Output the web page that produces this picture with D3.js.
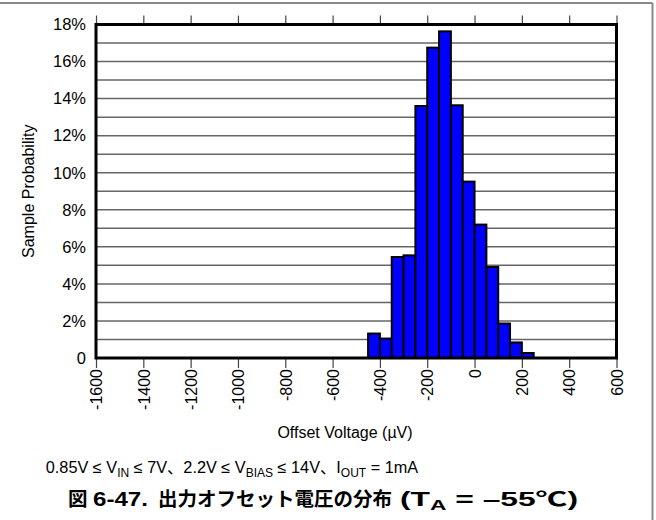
<!DOCTYPE html>
<html><head><meta charset="utf-8">
<script src="https://cdn.jsdelivr.net/npm/d3@7"></script>
<style>body{margin:0;background:#fff}svg{display:block}</style>
</head><body>
<script>
const binStarts = [-450,-400,-350,-300,-250,-200,-150,-100,-50,0,50,100,150,200];
const binWidth = 50;
const probabilities = [1.32,1.05,5.45,5.54,13.6,16.75,17.63,13.64,9.52,7.2,4.91,1.86,0.84,0.27];
const xTicks = [-1600,-1400,-1200,-1000,-800,-600,-400,-200,0,200,400,600];
const yTicks = [0,2,4,6,8,10,12,14,16,18];

const W=656,H=520;
const L=96,R=616.5,T=24.5,B=358;
const svg=d3.select("body").append("svg").attr("width",W).attr("height",H);
const x=d3.scaleLinear().domain([-1600,600]).range([L,R]);
const y=d3.scaleLinear().domain([0,18]).range([B,T]);
const font="Liberation Sans, Arial, sans-serif";
const cjk="Liberation Sans, Noto Sans CJK JP, sans-serif";

// outer frame
svg.append("line").attr("x1",0).attr("x2",652.5).attr("y1",3).attr("y2",3).attr("stroke","#888").attr("stroke-width",2);
svg.append("line").attr("x1",652.5).attr("x2",652.5).attr("y1",3).attr("y2",H).attr("stroke","#888").attr("stroke-width",2);

// gridlines
svg.append("g").selectAll("line").data(d3.range(1,18)).join("line")
  .attr("x1",L).attr("x2",R).attr("y1",d=>y(d)).attr("y2",d=>y(d))
  .attr("stroke","#666").attr("stroke-width",1.5);

// bars
svg.append("g").selectAll("rect").data(binStarts.map((s,i)=>({s,v:probabilities[i]}))).join("rect")
  .attr("x",d=>x(d.s)).attr("width",d=>x(d.s+binWidth)-x(d.s))
  .attr("y",d=>y(d.v)).attr("height",d=>y(0)-y(d.v))
  .attr("fill","#0000ff").attr("stroke","#000").attr("stroke-width",2);

// x axis bottom
const xb=svg.append("g").attr("transform",`translate(0,${B})`)
  .call(d3.axisBottom(x).tickValues(xTicks).tickSize(10).tickFormat(d=>String(d)));
xb.select(".domain").remove();
xb.selectAll(".tick line").attr("stroke","#444").attr("stroke-width",1.2);
xb.selectAll(".tick text").attr("transform","rotate(-90)").attr("text-anchor","end")
  .attr("x",-11).attr("y",0).attr("dy","0.36em")
  .style("font-family",font).style("font-size","16px").attr("fill","#000");

// x axis top ticks
const xt=svg.append("g").attr("transform",`translate(0,${T})`)
  .call(d3.axisTop(x).tickValues(xTicks).tickSize(9).tickFormat(""));
xt.select(".domain").remove();
xt.selectAll(".tick line").attr("stroke","#444").attr("stroke-width",1.2);

// y axis
const ya=svg.append("g").attr("transform",`translate(${L},0)`)
  .call(d3.axisLeft(y).tickValues(yTicks).tickSize(0).tickPadding(10).tickFormat(d=>d===0?"0":d+"%"));
ya.select(".domain").remove();
ya.selectAll(".tick text").style("font-family",font).style("font-size","16.5px").attr("fill","#000");

// plot border
svg.append("rect").attr("x",L).attr("y",T).attr("width",R-L).attr("height",B-T)
  .attr("fill","none").attr("stroke","#000").attr("stroke-width",3);

// axis titles
svg.append("text").attr("transform",`translate(34,${(T+B)/2}) rotate(-90)`)
  .attr("text-anchor","middle").style("font-family",font).style("font-size","16px").text("Sample Probability");
svg.append("text").attr("x",345).attr("y",438).attr("text-anchor","middle")
  .style("font-family",font).style("font-size","16px").text("Offset Voltage (µV)");

// condition line
const c=svg.append("text").attr("x",232).attr("y",473).attr("text-anchor","middle")
  .style("font-family",cjk).style("font-size","16.3px");
const parts=[["0.85V ≤ V",0],["IN",1],[" ≤ 7V、2.2V ≤ V",0],["BIAS",1],[" ≤ 14V、I",0],["OUT",1],[" = 1mA",0]];
parts.forEach(([t,s],i)=>{
  const ts=c.append("tspan").text(t);
  if(s){ts.attr("dy",4).style("font-size","12px");}
  else if(i>0){ts.attr("dy",-4);}
});

// caption
const capG=svg.append("g").style("font-family",cjk).style("font-weight","bold").style("font-size","19.5px");
capG.append("text").attr("x",68).attr("y",506).text("図");
capG.append("text").attr("x",93).attr("y",506).attr("textLength",55).attr("lengthAdjust","spacingAndGlyphs").text("6-47.");
capG.append("text").attr("x",158).attr("y",506).attr("textLength",234).attr("lengthAdjust","spacingAndGlyphs").text("出力オフセット電圧の分布");
const c2=capG.append("text").attr("x",400).attr("y",506).attr("textLength",178).attr("lengthAdjust","spacingAndGlyphs");
c2.append("tspan").text("(T");
c2.append("tspan").attr("dy",4).style("font-size","14px").text("A");
c2.append("tspan").attr("dy",-4).text(" = –55℃)");
</script>
</body></html>
